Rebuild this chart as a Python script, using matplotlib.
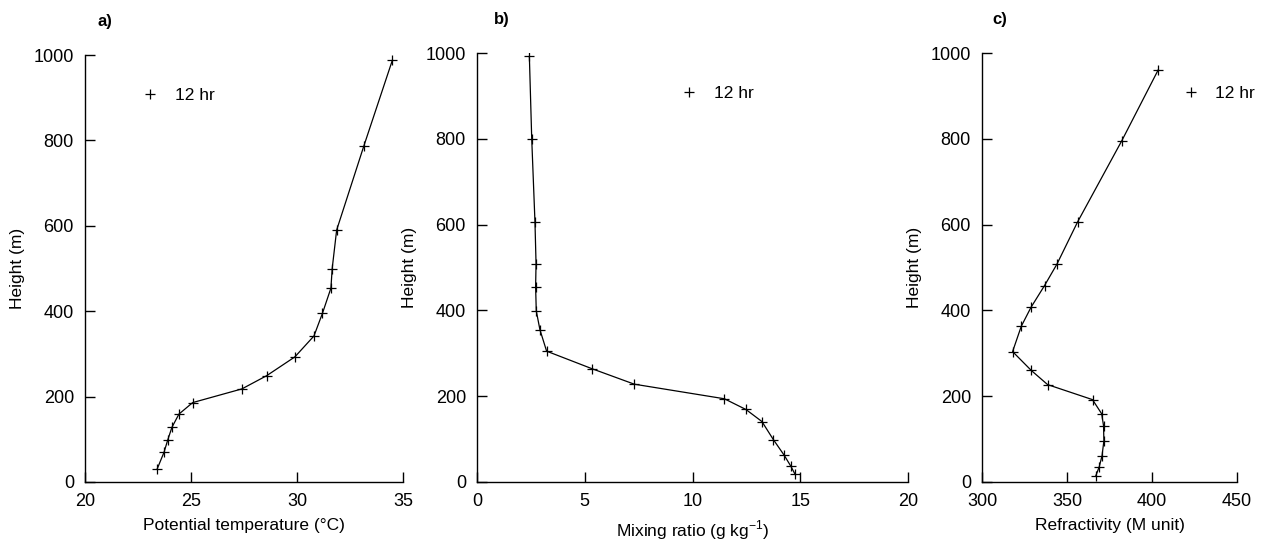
import matplotlib.pyplot as plt

plt.rcParams['font.family'] = ['Liberation Sans', 'DejaVu Sans']

# panel a: potential temperature (deg C) vs height (m)
theta = [23.4, 23.73, 23.9, 24.1, 24.43, 25.08, 27.4, 28.57, 29.9, 30.8,
         31.2, 31.6, 31.66, 31.87, 33.16, 34.5]
h_theta = [30, 70, 98, 128, 159, 186, 218, 249, 293, 342,
           395, 454, 500, 590, 788, 988]

# panel b: mixing ratio (g/kg)
mix = [14.76, 14.56, 14.26, 13.75, 13.22, 12.48, 11.48, 7.3, 5.34, 3.23,
       2.92, 2.75, 2.72, 2.74, 2.69, 2.54, 2.43]
h_mix = [18, 37, 62, 99, 141, 169, 194, 228, 264, 305,
         355, 399, 455, 509, 606, 799, 992]

# panel c: refractivity (M units)
refr = [367, 369, 370.6, 371.7, 371.5, 370.4, 365, 338.6, 329, 318,
        323.1, 328.8, 336.8, 344.1, 356.2, 382.3, 403.7]
h_refr = [15, 36, 61, 96, 131, 159, 192, 227, 260, 304,
          363, 407, 458, 508, 606, 796, 961]

fig = plt.figure(figsize=(12.63, 5.44), dpi=100)
W, H = 1263.0, 544.0

def box(x0, x1, y0, y1):
    return [x0 / W, 1 - y1 / H, (x1 - x0) / W, (y1 - y0) / H]

panels = [
    (box(85, 403, 55, 482), theta, h_theta, (20, 35), [20, 25, 30, 35],
     'Potential temperature (°C)', 'a)', (0.29, 0.905)),
    (box(477, 908, 53, 482), mix, h_mix, (0, 20), [0, 5, 10, 15, 20],
     'Mixing ratio (g kg$^{\\mathregular{-1}}$)', 'b)', (0.555, 0.905)),
    (box(982, 1237, 53, 482), refr, h_refr, (300, 450), [300, 350, 400, 450],
     'Refractivity (M unit)', 'c)', (0.925, 0.905)),
]

for rect, xs, hs, xlim, xt, xlab, tag, legpos in panels:
    ax = fig.add_axes(rect)
    ax.plot(xs, hs, color='black', lw=0.9, marker='+', ms=6.5, mew=0.9,
            label='12 hr')
    ax.set_xlim(*xlim)
    ax.set_ylim(0, 1000)
    ax.set_xticks(xt)
    ax.set_yticks([0, 200, 400, 600, 800, 1000])
    ax.spines['top'].set_visible(False)
    ax.spines['right'].set_visible(False)
    for s in ('left', 'bottom'):
        ax.spines[s].set_linewidth(1.0)
    ax.tick_params(direction='in', length=7, width=1.0, labelsize=13, pad=8)
    ax.set_xlabel(xlab, fontsize=12.5, labelpad=6)
    ax.set_ylabel('Height (m)', fontsize=12.5, labelpad=6)
    ax.legend(loc='center', bbox_to_anchor=legpos, frameon=False,
              fontsize=12.5, handlelength=1.2, handletextpad=0.8,
              markerscale=1.0).legend_handles[0].set_linestyle('none')
    ax.text(0.04, 1.06, tag, transform=ax.transAxes, fontsize=12,
            fontweight='bold', ha='left', va='bottom')

fig.savefig('out.png', dpi=100)
